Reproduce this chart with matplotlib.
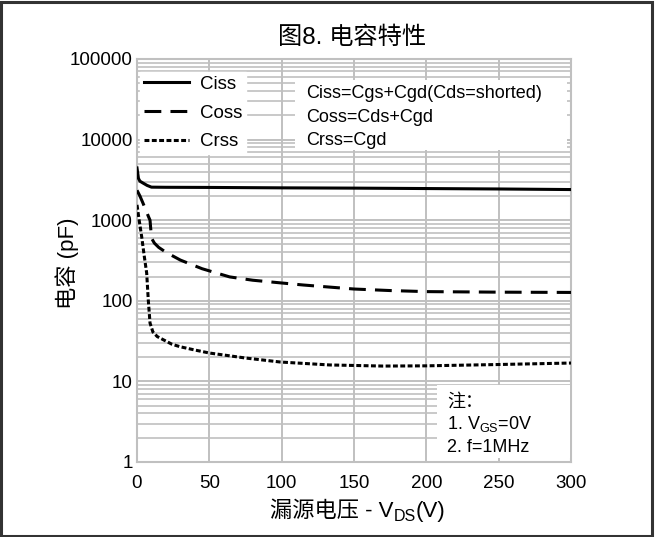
import matplotlib
matplotlib.use("Agg")
import matplotlib.pyplot as plt
from matplotlib.patches import Rectangle
from matplotlib.ticker import FixedLocator, NullFormatter

plt.rcParams['font.family'] = ['Liberation Sans', 'Noto Sans CJK SC', 'DejaVu Sans']
plt.rcParams['mathtext.fontset'] = 'custom'
plt.rcParams['mathtext.rm'] = 'Liberation Sans'
plt.rcParams['mathtext.it'] = 'Liberation Sans:italic'
plt.rcParams['mathtext.bf'] = 'Liberation Sans:bold'

# Data
ciss_v = [0, 1, 2, 4, 7, 10, 20, 50, 100, 150, 200, 250, 300]
ciss_c = [4450, 3300, 3050, 2900, 2700, 2570, 2560, 2550, 2520, 2500, 2470, 2440, 2400]

coss_v = [0, 2, 4, 6, 8, 9, 9.5, 10, 12, 15, 20, 30, 45, 64, 80, 99, 115, 133, 150, 175, 200, 250, 300]
coss_c = [2350, 2000, 1650, 1350, 1100, 1000, 780, 600, 520, 460, 400, 320, 250, 198, 180, 167, 157, 148, 140, 134, 130, 128, 127]

crss_v = [0, 1.5, 3.2, 5, 6.7, 7.8, 9, 11, 14, 18, 24, 29.5, 40, 50, 75, 99, 133, 170, 200, 250, 300]
crss_c = [1550, 1000, 630, 360, 220, 102, 53, 41, 36, 33, 29, 27, 24.5, 22.5, 19.5, 17.4, 16, 15.5, 15.6, 16.2, 16.9]

x_ticks = [0, 50, 100, 150, 200, 250, 300]
y_ticks = [1, 10, 100, 1000, 10000, 100000]
y_ticklabels = ['1', '10', '100', '1000', '10000', '100000']

formula_lines = ['Ciss=Cgs+Cgd(Cds=shorted)', 'Coss=Cds+Cgd', 'Crss=Cgd']
note_lines = ['注：', '1. V$_{\\mathrm{GS}}$=0V', '2. f=1MHz']

W, H = 656, 537
fig = plt.figure(figsize=(W/100, H/100), dpi=100)
ax = fig.add_axes([137/W, 1-462/H, (571-137)/W, (462-59)/H])

ax.set_yscale('log')
ax.set_xlim(0, 300)
ax.set_ylim(1, 100000)

gcol = '#c0c0c0'
ax.set_xticks(x_ticks)
ax.set_yticks(y_ticks)
ax.set_yticklabels(y_ticklabels)
minors = [m * 10**e for e in range(0, 5) for m in range(2, 10)]
ax.yaxis.set_minor_locator(FixedLocator(minors))
ax.yaxis.set_minor_formatter(NullFormatter())
ax.grid(True, which='major', axis='both', color=gcol, lw=1.4)
ax.grid(True, which='minor', axis='y', color=gcol, lw=1.2)
ax.tick_params(which='both', length=0, labelsize=13.5, colors='black')
ax.tick_params(axis='y', pad=3)
ax.tick_params(axis='x', pad=9)
for s in ax.spines.values():
    s.set_color(gcol)
    s.set_linewidth(1.5)
ax.set_axisbelow(True)

l1, = ax.plot(ciss_v, ciss_c, color='black', lw=2.2, ls='-', label='Ciss', zorder=5)
l2, = ax.plot(coss_v, coss_c, color='black', lw=2.2, ls=(0, (5.5, 3)), label='Coss', zorder=5)
l3, = ax.plot(crss_v, crss_c, color='black', lw=2.2, ls=(0, (1.6, 0.8)), label='Crss', zorder=5)

leg = ax.legend(handles=[l1, l2, l3], loc='upper left', bbox_to_anchor=(0.007, 0.968),
                frameon=True, fancybox=False, fontsize=13.5, handlelength=2.4,
                handletextpad=0.6, labelspacing=0.62, borderpad=0.2, borderaxespad=0)
leg.get_frame().set_edgecolor('white')
leg.get_frame().set_facecolor('white')
leg.get_frame().set_alpha(1)
leg.set_zorder(6)

def axpx(px, py):
    return ((px-137)/434, (462-py)/403)

# formula box
x0, y0 = axpx(295, 150); x1, y1 = axpx(567, 80)
ax.add_patch(Rectangle((x0, y0), x1-x0, y1-y0, transform=ax.transAxes,
                       fc='white', ec='none', zorder=6))
for txt, py in zip(formula_lines, [92, 116, 139]):
    tx, ty = axpx(306, py)
    ax.text(tx, ty, txt, transform=ax.transAxes, fontsize=13, va='center_baseline',
            ha='left', zorder=7)

# note box
x0, y0 = axpx(437, 458); x1, y1 = axpx(570, 385)
ax.add_patch(Rectangle((x0, y0), x1-x0, y1-y0, transform=ax.transAxes,
                       fc='white', ec='none', zorder=6))
for txt, py in zip(note_lines, [400, 422, 445]):
    tx, ty = axpx(447, py)
    ax.text(tx, ty, txt, transform=ax.transAxes, fontsize=13, va='center_baseline',
            ha='left', zorder=7)

# title and axis labels
fig.text(352/W, 1-38/H, '图8. 电容特性', fontsize=17.5, ha='center', va='center')
fig.text(67/W, 1-263/H, '电容 (pF)', fontsize=16, ha='center', va='center', rotation=90)

# x label composed of pieces (CJK text + subscript)
fig.canvas.draw()
renderer = fig.canvas.get_renderer()
pieces = [('漏源电压 - V', 16, 0), ('DS', 11.5, -4), ('(V)', 16, 0)]
artists = []
for s, fs, dy in pieces:
    t = fig.text(0, 0, s, fontsize=fs, ha='left', va='baseline')
    artists.append((t, dy))
widths = [t.get_window_extent(renderer).width for t, _ in artists]
total = sum(widths)
cx, base_y = 358, 517
x = cx - total/2
for (t, dy), w in zip(artists, widths):
    t.set_position((x/W, 1-(base_y - dy)/H))
    x += w

fig.patches.append(Rectangle((1/W, 1/H), 651/W, 1-2.5/H, transform=fig.transFigure,
                             fill=False, ec='#333333', lw=2.2))

fig.savefig('out.png', dpi=100)
